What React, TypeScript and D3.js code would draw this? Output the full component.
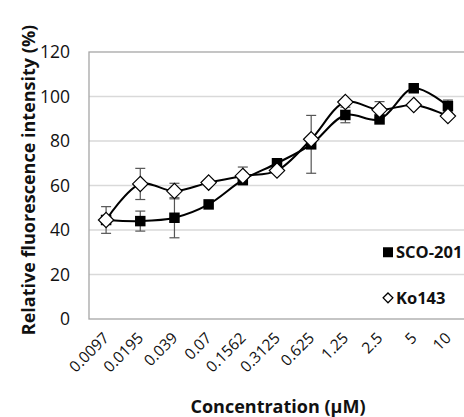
import { useEffect, useRef } from "react";
import * as d3 from "d3";

const concentrations = ["0.0097", "0.0195", "0.039", "0.07", "0.1562", "0.3125", "0.625", "1.25", "2.5", "5", "10"];
const sco201 = [44.5, 44, 45.5, 51.5, 62.5, 70, 78.5, 91.7, 89.7, 103.7, 95.7];
const sco201Err = [0, 4.5, 9, 0, 0, 0, 13, 3.5, 0, 0, 2.7];
const ko143 = [44.5, 60.7, 57.5, 61.3, 64.3, 66.7, 80.8, 97.5, 94, 96.2, 91.2];
const ko143Err = [6, 7, 3.5, 0, 4, 0, 0, 0, 3.7, 0, 0];
const yTicks = [0, 20, 40, 60, 80, 100, 120];

const W = 464;
const H = 417;
const font = "'Open Sans', 'Noto Sans', sans-serif";

const App = () => {
  const ref = useRef<SVGSVGElement>(null);

  useEffect(() => {
    const svg = d3.select(ref.current);
    svg.selectAll("*").remove();

    const left = 89, right = 465, top = 52, bottom = 319;
    const x = d3.scalePoint<string>().domain(concentrations).range([left, right]).padding(0.5);
    const y = d3.scaleLinear().domain([0, 120]).range([bottom, top]);

    // grid
    svg
      .append("g")
      .selectAll("line")
      .data(yTicks.filter((t) => t > 0 && t < 120))
      .join("line")
      .attr("x1", left)
      .attr("x2", right)
      .attr("y1", (d) => y(d))
      .attr("y2", (d) => y(d))
      .attr("stroke", "#d9d9d9")
      .attr("stroke-width", 1.3);

    svg
      .append("rect")
      .attr("x", left)
      .attr("y", top)
      .attr("width", right - left)
      .attr("height", bottom - top)
      .attr("fill", "none")
      .attr("stroke", "#a6a6a6")
      .attr("stroke-width", 1.3);

    // y tick labels
    svg
      .append("g")
      .selectAll("text")
      .data(yTicks)
      .join("text")
      .attr("x", 70)
      .attr("y", (d) => y(d))
      .attr("dy", "0.36em")
      .attr("text-anchor", "end")
      .attr("font-family", font)
      .attr("font-size", 17.5)
      .attr("fill", "#111")
      .text((d) => d);

    // x tick labels
    svg
      .append("g")
      .selectAll("text")
      .data(concentrations)
      .join("text")
      .attr("transform", (d) => `translate(${(x(d) as number) + 4},${bottom + 20}) rotate(-45)`)
      .attr("text-anchor", "end")
      .attr("font-family", font)
      .attr("font-size", 15.5)
      .attr("fill", "#111")
      .text((d) => d);

    // axis titles
    svg
      .append("text")
      .attr("x", 278)
      .attr("y", 413)
      .attr("text-anchor", "middle")
      .attr("font-family", font)
      .attr("font-weight", "bold")
      .attr("font-size", 18)
      .attr("fill", "#111")
      .text("Concentration (µM)");

    svg
      .append("text")
      .attr("transform", `translate(35,180) rotate(-90)`)
      .attr("text-anchor", "middle")
      .attr("font-family", font)
      .attr("font-weight", "bold")
      .attr("font-size", 18)
      .attr("fill", "#111")
      .text("Relative fluorescence intensity (%)");

    const line = d3
      .line<number>()
      .x((_, i) => x(concentrations[i]) as number)
      .y((d) => y(d))
      .curve(d3.curveCatmullRom.alpha(0.5));

    const errBars = (vals: number[], errs: number[]) => {
      const g = svg.append("g").attr("stroke", "#555").attr("stroke-width", 1.2).attr("fill", "none");
      vals.forEach((v, i) => {
        if (!errs[i]) return;
        const cx = x(concentrations[i]) as number;
        const y0 = y(v - errs[i]);
        const y1 = y(v + errs[i]);
        g.append("line").attr("x1", cx).attr("x2", cx).attr("y1", y0).attr("y2", y1);
        g.append("line").attr("x1", cx - 5).attr("x2", cx + 5).attr("y1", y0).attr("y2", y0);
        g.append("line").attr("x1", cx - 5).attr("x2", cx + 5).attr("y1", y1).attr("y2", y1);
      });
    };
    errBars(sco201, sco201Err);
    errBars(ko143, ko143Err);

    svg.append("path").datum(sco201).attr("d", line).attr("fill", "none").attr("stroke", "#000").attr("stroke-width", 2);
    svg.append("path").datum(ko143).attr("d", line).attr("fill", "none").attr("stroke", "#000").attr("stroke-width", 2);

    const sq = d3.symbol(d3.symbolSquare, 110);
    const dia = d3.symbol(d3.symbolDiamond2, 150);

    svg
      .append("g")
      .selectAll("path")
      .data(sco201)
      .join("path")
      .attr("transform", (d, i) => `translate(${x(concentrations[i])},${y(d)})`)
      .attr("d", sq)
      .attr("fill", "#000");

    svg
      .append("g")
      .selectAll("path")
      .data(ko143)
      .join("path")
      .attr("transform", (d, i) => `translate(${x(concentrations[i])},${y(d)})`)
      .attr("d", dia)
      .attr("fill", "#fff")
      .attr("stroke", "#000")
      .attr("stroke-width", 1.2);

    // legend
    const lg = svg.append("g");
    lg.append("path").attr("transform", `translate(388,${y(30)})`).attr("d", d3.symbol(d3.symbolSquare, 100)).attr("fill", "#000");
    lg.append("path")
      .attr("transform", `translate(388,${y(9.5)})`)
      .attr("d", d3.symbol(d3.symbolDiamond2, 60))
      .attr("fill", "#fff")
      .attr("stroke", "#000")
      .attr("stroke-width", 1.3);
    lg.append("text")
      .attr("x", 396)
      .attr("y", y(30))
      .attr("dy", "0.36em")
      .attr("font-family", font)
      .attr("font-weight", "bold")
      .attr("font-size", 16.5)
      .attr("fill", "#111")
      .text("SCO-201");
    lg.append("text")
      .attr("x", 396)
      .attr("y", y(9.5))
      .attr("dy", "0.36em")
      .attr("font-family", font)
      .attr("font-weight", "bold")
      .attr("font-size", 16.5)
      .attr("fill", "#111")
      .text("Ko143");
  }, []);

  return (
    <>
      <style>{`body{margin:0}`}</style>
      <svg ref={ref} width={W} height={H} style={{ display: "block", background: "#fff" }} />
    </>
  );
};

export default App;
